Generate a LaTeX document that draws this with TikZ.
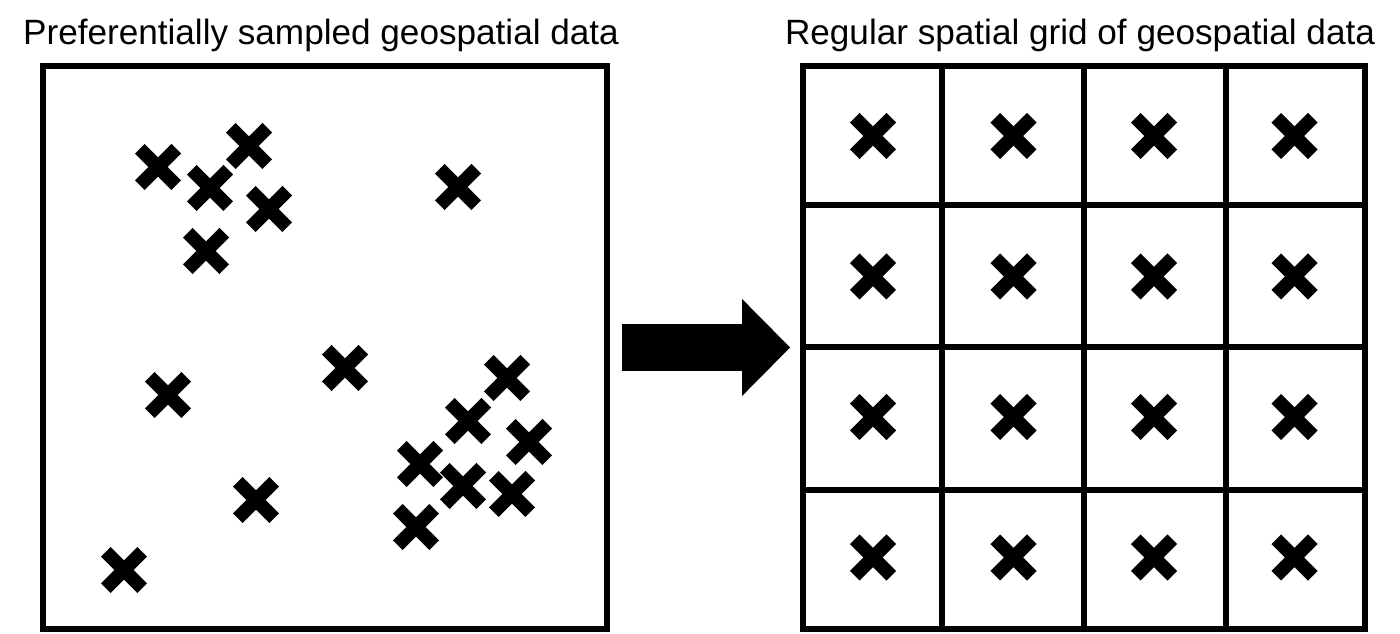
\documentclass[tikz,border=0pt]{standalone}
\usepackage{fontspec}
\setmainfont{Liberation Sans}
\usetikzlibrary{arrows.meta, positioning, shapes.misc, calc}

\begin{document}
\begin{tikzpicture}[x=0.02cm, y=-0.02cm,
        frame/.style={draw, line width=0.12cm, inner sep=0pt, minimum height=11.26cm},
        sample/.style={cross out, draw, line width=0.27cm, inner sep=0pt, minimum size=0.46cm},
        heading/.style={anchor=base, font=\fontsize{20}{24}\selectfont},
        blockarrow/.style={line width=0.96cm, -{Triangle[length=0.96cm, width=1.94cm, line width=0pt]}, shorten <=0.24cm, shorten >=0.2cm}]
        \useasboundingbox (0,0) rectangle (1400,634);

        \node[frame, minimum width=11.28cm] (sampled) at (325,347.5) {};
        \node[frame, minimum width=11.24cm] (grid) at (1084,347.5) {};

        \node[heading] (sampledtitle) at (321,45) {Preferentially sampled geospatial data};
        \node[heading] (gridtitle) at (1080,45) {Regular spatial grid of geospatial data};

        \foreach \i in {1,2,3} {
            \draw[line width=0.12cm] ($(grid.north west)!\i/4!(grid.north east)$) -- ($(grid.south west)!\i/4!(grid.south east)$);
            \draw[line width=0.12cm] ($(grid.north west)!\i/4!(grid.south west)$) -- ($(grid.north east)!\i/4!(grid.south east)$);
        }

        \foreach \px/\py [count=\n] in {158/167, 249/146, 210/188, 269/209, 206/251, 458/187, 345/368, 168/395, 507/378, 468/421, 529/442, 420/464, 463/486, 512/494, 256/500, 416/527, 124/570}
            \node[sample] (s\n) at (\px,\py) {};

        \foreach \r in {0,...,3}
            \foreach \c in {0,...,3}
                \node[sample] (g\r\c) at ({873+140.5*\c},{136+140.5*\r}) {};

        \draw[blockarrow] (sampled) -- (grid);
    \end{tikzpicture}
\end{document}
